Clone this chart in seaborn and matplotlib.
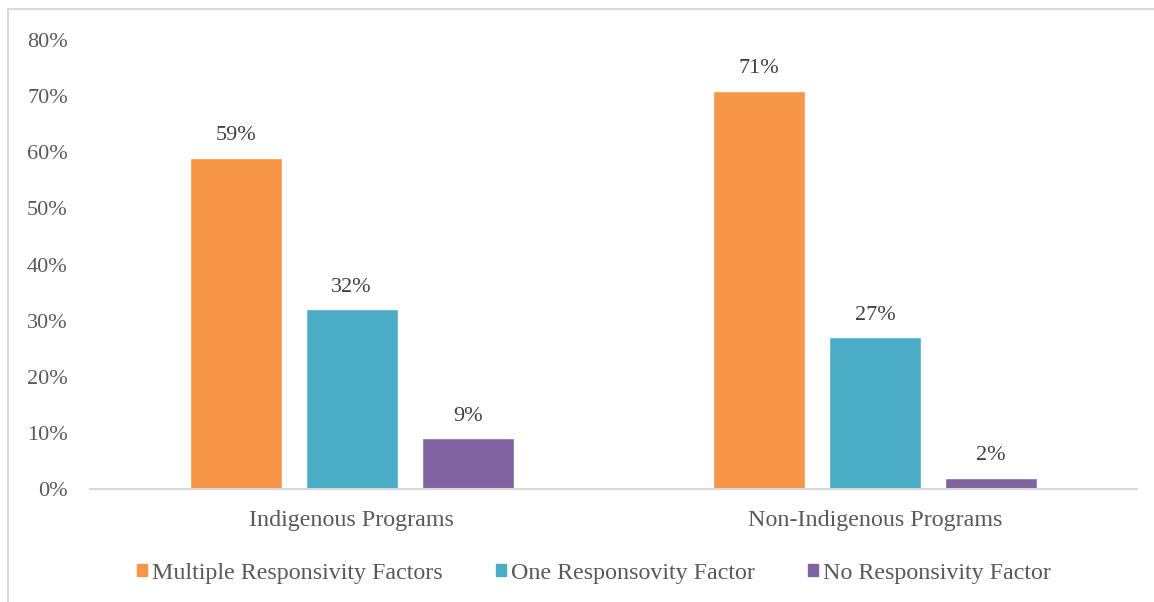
import matplotlib
matplotlib.use("Agg")
import matplotlib.pyplot as plt
import matplotlib.patches as mpatches
import seaborn as sns
import pandas as pd

# data (percent)
programs = ["Indigenous Programs", "Non-Indigenous Programs"]
factors = ["Multiple Responsivity Factors", "One Responsovity Factor", "No Responsivity Factor"]
multiple = [59, 71]
one = [32, 27]
none_ = [9, 2]
yticks = [0, 10, 20, 30, 40, 50, 60, 70, 80]

colors = ["#F79646", "#4BACC6", "#8064A2"]

df = pd.DataFrame({
    "program": programs * 3,
    "factor": [factors[0]] * 2 + [factors[1]] * 2 + [factors[2]] * 2,
    "value": multiple + one + none_,
})

sns.set_theme(style="white")
plt.rcParams["font.family"] = ["Liberation Serif", "DejaVu Serif"]

fig = plt.figure(figsize=(11.54, 6.02), dpi=100)
ax = fig.add_axes([90 / 1154, 1 - 489 / 602, (1137 - 90) / 1154, (489 - 40) / 602])

sns.barplot(data=df, x="program", y="value", hue="factor", hue_order=factors,
            palette=colors, width=0.665, gap=0.21, saturation=1, legend=False, ax=ax)

for cont in ax.containers:
    ax.bar_label(cont, labels=[f"{v:.0f}%" for v in cont.datavalues],
                 padding=9, fontsize=16, color="#404040")

ax.set_ylim(0, 80)
ax.set_yticks(yticks)
ax.set_yticklabels([f"{t}%" for t in yticks])
ax.set_xlim(-0.5, 1.5)
ax.set_xlabel("")
ax.set_ylabel("")
ax.tick_params(axis="both", length=0, labelcolor="#595959")
ax.tick_params(axis="y", pad=16, labelsize=16)
ax.tick_params(axis="x", pad=15, labelsize=17.3)
for s in ["top", "right", "left"]:
    ax.spines[s].set_visible(False)
ax.spines["bottom"].set_color("#D9D9D9")
ax.spines["bottom"].set_linewidth(1.5)

handles = [mpatches.Patch(color=c, label=f) for c, f in zip(colors, factors)]
leg = fig.legend(handles=handles, loc="center", bbox_to_anchor=(594 / 1154, 1 - 573 / 602),
                 ncol=3, frameon=False, fontsize=17.3, handlelength=0.42, handleheight=0.42,
                 handletextpad=0.22, columnspacing=2.2, borderpad=0)
for t in leg.get_texts():
    t.set_color("#595959")

# outer chart border (left and top edges visible)
fig.patches.append(mpatches.Rectangle((8 / 1154, -0.05), 1.1, 1 - 9 / 602 + 0.05,
                                      transform=fig.transFigure, fill=False,
                                      edgecolor="#D9D9D9", linewidth=1.5))

fig.savefig("out.png", dpi=100)
